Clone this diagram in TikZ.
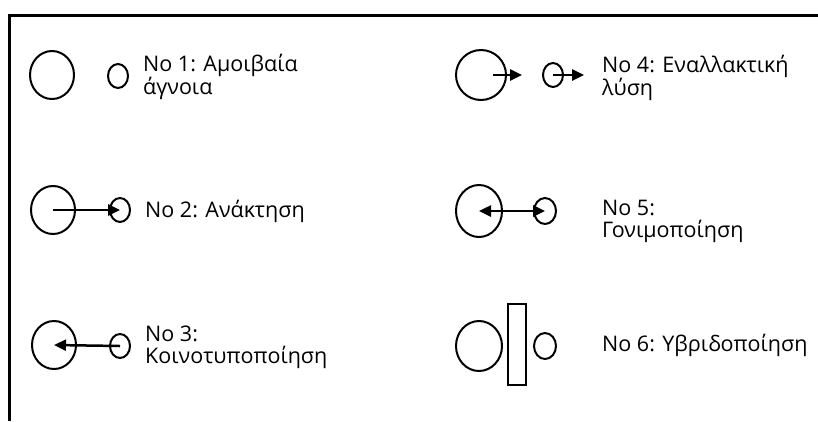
\documentclass[tikz,border=0pt]{standalone}
\usepackage{fontspec}
\setmainfont{Open Sans}
\usetikzlibrary{arrows.meta,shapes.geometric}
\tikzset{
  bigcirc/.style={draw, ellipse, line width=2pt, minimum width=44pt, minimum height=48pt, inner sep=0pt},
  smallcirc/.style={draw, ellipse, line width=2pt, minimum width=20pt, minimum height=24pt, inner sep=0pt},
  lbl/.style={anchor=west, align=left, inner sep=0pt, font=\fontsize{21.5}{22}\selectfont},
  arr/.style={line width=2.5pt, -{Triangle[length=12pt,width=11pt]}},
  dblarr/.style={line width=2.5pt, {Triangle[length=12pt,width=11pt]}-{Triangle[length=12pt,width=11pt]}}
}
\begin{document}
\begin{tikzpicture}[x=1pt,y=-1pt]
\useasboundingbox (0,0) rectangle (818,421);
\draw[line width=3pt] (818,15) -- (9,15) -- (9,421);

\node[bigcirc] (big1) at (52,75) {};
\node[smallcirc] (small1) at (118,76) {};
\node[lbl] (txt1) at (143,77) {No 1: Αμοιβαία\\άγνοια};

\node[bigcirc] (big2) at (53,210) {};
\node[smallcirc] (small2) at (120,210) {};
\draw[arr] (big2.center) -- (small2.center);
\node[lbl] (txt2) at (145,211) {No 2: Ανάκτηση};

\node[bigcirc] (big3) at (54,345) {};
\node[smallcirc] (small3) at (120,346) {};
\draw[arr] (small3.center) -- (big3.center);
\node[lbl] (txt3) at (145,347) {No 3:\\Κοινοτυποποίηση};

\node[bigcirc, minimum width=50pt, minimum height=50pt] (big4) at (481,75) {};
\coordinate (start4) at ([xshift=12pt]big4.center);
\coordinate (end4) at ([xshift=41pt]big4.center);
\draw[arr] (start4) -- (end4);
\node[smallcirc] (small4) at (553,75) {};
\coordinate (end4b) at ([xshift=31pt]small4.center);
\draw[arr] (small4.center) -- (end4b);
\node[lbl] (txt4) at (602,78) {No 4: Εναλλακτική\\λύση};

\node[bigcirc, minimum width=46pt, minimum height=52pt] (big5) at (479,211) {};
\node[smallcirc, minimum width=22pt, minimum height=26pt] (small5) at (545,211) {};
\draw[dblarr] (big5.center) -- (small5.center);
\node[lbl] (txt5) at (602,221) {No 5:\\Γονιμοποίηση};

\node[bigcirc, minimum width=46pt, minimum height=50pt] (big6) at (479,346) {};
\node[draw, rectangle, line width=2pt, minimum width=18pt, minimum height=81pt, inner sep=0pt] (bar6) at (517,344.5) {};
\node[smallcirc, minimum width=22pt, minimum height=26pt] (small6) at (545,346) {};
\node[lbl] (txt6) at (602,345) {No 6: Υβριδοποίηση};

\end{tikzpicture}
\end{document}
